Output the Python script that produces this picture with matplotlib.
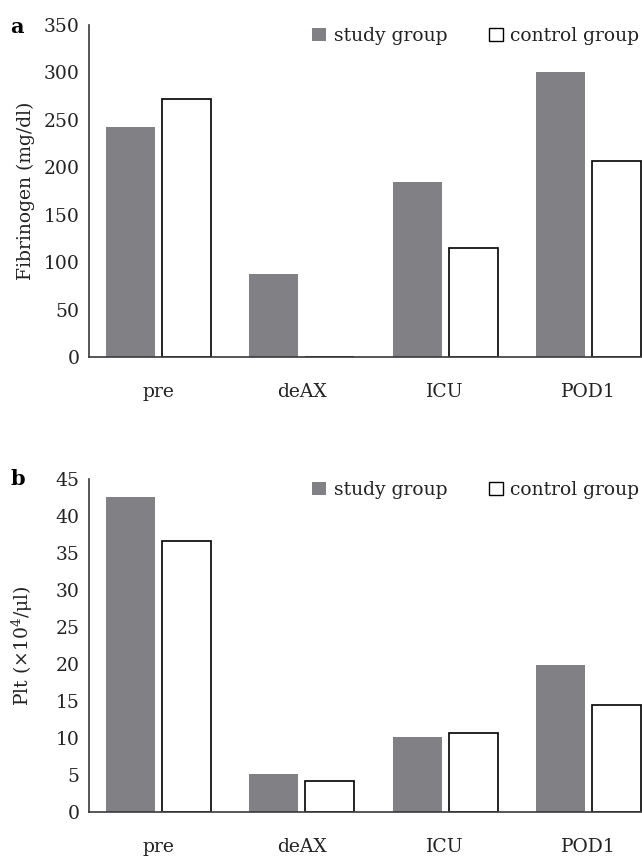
import numpy as np
import matplotlib
matplotlib.use("Agg")
import matplotlib.pyplot as plt
from matplotlib.patches import Patch

# Datos
categorias = ["pre", "deAX", "ICU", "POD1"]
fib_estudio = [242, 88, 185, 300]
fib_control = [272, 0, 115, 207]
plt_estudio = [42.6, 5.1, 10.1, 19.9]
plt_control = [36.6, 4.2, 10.7, 14.4]

plt.rcParams["font.family"] = ["DejaVu Serif"]
plt.rcParams["mathtext.fontset"] = "dejavuserif"

GRIS = "#818185"
EJE = "#3a3a3a"
TXT = "#222222"
FS = 13.5

fig = plt.figure(figsize=(6.42, 8.56), dpi=100)
ax_a = fig.add_axes([0.1386, 0.5829, 0.8614, 0.3879])
ax_b = fig.add_axes([0.1386, 0.0518, 0.8614, 0.3886])

x = np.arange(len(categorias))
ancho = 0.341
desp = 0.195


def dibujar(ax, estudio, control, ymax, paso, ylabel):
    ax.bar(x - desp, estudio, ancho, color=GRIS, edgecolor="none", zorder=2)
    ax.bar(x + desp, control, ancho, color="white", edgecolor="black",
           linewidth=1.2, zorder=2)
    ax.set_xlim(-0.4826, 3.371)
    ax.set_ylim(0, ymax)
    ax.set_yticks(np.arange(0, ymax + 1e-9, paso))
    ax.set_xticks(x)
    ax.set_xticklabels(categorias)
    for lado in ["top", "right"]:
        ax.spines[lado].set_visible(False)
    for lado in ["left", "bottom"]:
        ax.spines[lado].set_color(EJE)
        ax.spines[lado].set_linewidth(1.2)
        ax.spines[lado].set_zorder(3)
    ax.tick_params(axis="y", length=0, pad=7, labelsize=FS, colors=TXT)
    ax.tick_params(axis="x", length=0, pad=19, labelsize=FS, colors=TXT)
    ax.set_ylabel(ylabel, fontsize=FS, color=TXT)
    ax.yaxis.set_label_coords(-0.098, 0.5)
    handles = [Patch(facecolor=GRIS, edgecolor="none", label="study group"),
               Patch(facecolor="white", edgecolor="black", linewidth=1.0,
                     label="control group")]
    ax.legend(handles=handles, loc="center right", bbox_to_anchor=(0.995, 0.967),
              ncol=2, frameon=False, fontsize=FS, handlelength=0.75,
              handleheight=0.75, handletextpad=0.4, columnspacing=2.2,
              borderpad=0, borderaxespad=0, labelcolor=TXT)


dibujar(ax_a, fib_estudio, fib_control, 350, 50, "Fibrinogen (mg/dl)")
dibujar(ax_b, plt_estudio, plt_control, 45, 5, r"Plt ($\times$10$^4$/μl)")

fig.text(0.027, 0.968, "a", fontsize=15, fontweight="bold", ha="center", va="center")
fig.text(0.027, 0.441, "b", fontsize=15, fontweight="bold", ha="center", va="center")

fig.savefig("out.png", dpi=100)
plt.close(fig)
